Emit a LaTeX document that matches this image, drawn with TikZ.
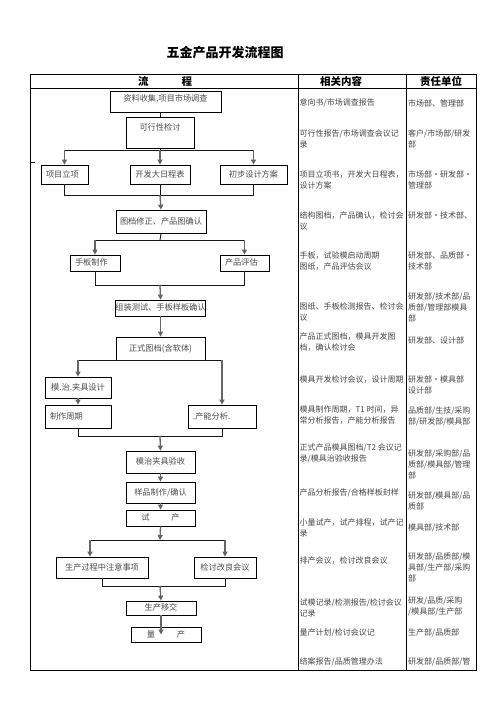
\documentclass[tikz,border=0pt]{standalone}
\usepackage{fontspec}
\setmainfont{Noto Sans CJK SC}
\usetikzlibrary{arrows.meta,calc}
\begin{document}
\begin{tikzpicture}[x=1pt,y=-1pt,
  tab/.style={draw=black,line width=1pt},
  ln/.style={draw=black!90,line width=0.9pt},
  arr/.style={draw=black!60,line width=1.3pt,-{Triangle[length=5pt,width=5pt,fill=black!85]}},
  fbox/.style={draw=black,line width=0.8pt,inner sep=0pt,text=black!70,
    font=\fontsize{8.2}{10}\selectfont,text height=7pt,text depth=2pt,align=center},
  lft/.style={align=left,inner xsep=5pt},
  hdr/.style={inner sep=0pt,font=\fontsize{10.5}{12}\selectfont\bfseries},
  ctwo/.style={anchor=west,inner sep=0pt,align=left,text=black!72,font=\fontsize{8}{11}\selectfont},
  cthree/.style={anchor=west,inner sep=0pt,align=left,text=black!72,font=\fontsize{8}{11}\selectfont}]
\useasboundingbox (0,0) rectangle (496,702);
\fill[white] (0,0) rectangle (496,702);

% title
\node[inner sep=0pt,font=\fontsize{13}{14}\selectfont\bfseries] (title) at (225,53) {五金产品开发流程图};

% table
\draw[tab] (30.5,74) rectangle (476,670);
\draw[tab] (30.5,88) -- (476,88);
\draw[tab] (298,74) -- (298,670);
\draw[tab] (406,74) -- (406,670);
\draw[ln] (31,162) -- (35,162);

\node[hdr] (h1) at (165,81) {流\hspace{33pt}程};
\node[hdr] (h2) at (341,81) {相关内容};
\node[hdr] (h3) at (441,81) {责任单位};

% flow boxes
\node[fbox,minimum width=111pt,minimum height=21pt,text depth=8pt] (b1) at (165.5,101.5) {资料收集,项目市场调查};
\node[fbox,minimum width=68pt,minimum height=31pt,text depth=11pt] (b2) at (160,132.5) {可行性检讨};
\node[fbox,lft,text width=37pt,minimum width=47pt,minimum height=19pt] (r3a) at (64.5,174.5) {项目立项};
\node[fbox,minimum width=60pt,minimum height=19pt] (r3b) at (160,174.5) {开发大日程表};
\node[fbox,minimum width=67pt,minimum height=19pt] (r3c) at (253.5,174.5) {初步设计方案};
\node[fbox,minimum width=90pt,minimum height=23pt] (b4) at (161,221.5) {图档修正、产品图确认};
\node[fbox,lft,text width=40pt,minimum width=50pt,minimum height=16pt] (hb) at (95,263) {手板制作};
\node[fbox,lft,text width=39pt,minimum width=49pt,minimum height=16pt] (pg) at (244.5,263) {产品评估};
\node[fbox,minimum width=89pt,minimum height=16pt] (b6) at (160.5,308) {组装测试、手板样板确认};
\node[fbox,minimum width=89pt,minimum height=23pt] (b7) at (160.5,348.5) {正式图档(含软体)};
\node[fbox,minimum width=66pt,minimum height=21pt] (mz) at (78,387.5) {模.治.夹具设计};
\node[fbox,lft,text width=56pt,minimum width=66pt,minimum height=23pt] (zq) at (78,416.5) {制作周期};
\node[fbox,lft,text width=58pt,minimum width=68pt,minimum height=23pt] (cn) at (222,416.5) {.产能分析.};
\node[fbox,minimum width=69pt,minimum height=22pt] (ys) at (160.5,462) {模治夹具验收};
\node[fbox,minimum width=69pt,minimum height=21pt] (yp) at (160.5,492.5) {样品制作/确认};
\node[fbox,minimum width=69pt,minimum height=16pt] (sc) at (160.5,518) {试\hspace{22pt}产};
\node[fbox,minimum width=92pt,minimum height=21pt] (sx) at (102,567.5) {生产过程中注意事项};
\node[fbox,minimum width=62pt,minimum height=21pt] (jt) at (225,567.5) {检讨改良会议};
\node[fbox,minimum width=70pt,minimum height=14pt] (yj) at (161,608) {生产移交};
\node[fbox,minimum width=70pt,minimum height=15pt] (lc) at (166,634.5) {量\hspace{22pt}产};

% junctions
\coordinate (j1) at (160,150);
\coordinate (m1) at (160,195);
\coordinate (j2) at (160,240);
\coordinate (m2) at (160,285);
\coordinate (m3) at (160,436);
\coordinate (j4) at (160,540);
\coordinate (a4l) at (90,540);
\coordinate (m4) at (160,586);

% connectors
\draw[ln] (b2.north |- b1.south) -- (b2.north);
\draw[ln] (b2.south) -- (j1);
\draw[ln] (r3a.north |- j1) -- (r3c.north |- j1);
\draw[arr] (r3a.north |- j1) -- (r3a.north);
\draw[arr] (j1) -- (r3b.north);
\draw[arr] (r3c.north |- j1) -- (r3c.north);
\draw[ln] (r3a.south) -- (r3a.south |- m1) -- (r3c.south |- m1) -- (r3c.south);
\draw[ln] (r3b.south) -- (m1);
\draw[arr] (m1) -- (b4.north);

\draw[ln] (b4.south) -- (j2);
\draw[ln] (hb.north |- j2) -- (pg.north |- j2);
\draw[arr] (hb.north |- j2) -- (hb.north);
\draw[arr] (pg.north |- j2) -- (pg.north);
\draw[ln] (hb.south) -- (hb.south |- m2) -- (pg.south |- m2) -- (pg.south);
\draw[arr] (m2) -- (b6.north);
\draw[arr] (b6.south) -- (b7.north);

\draw[ln] (mz.north |- b7.south) -- (cn.north |- b7.south);
\draw[arr] (mz.north |- b7.south) -- (mz.north);
\draw[arr] (cn.north |- b7.south) -- (cn.north);
\draw[arr] (mz.south) -- (zq.north);
\draw[ln] (zq.south) -- (zq.south |- m3) -- (cn.south |- m3) -- (cn.south);
\draw[arr] (m3) -- (ys.north);
\draw[arr] (ys.south) -- (yp.north);
\draw[arr] (yp.south) -- (sc.north);

\draw[arr] (sc.south) -- (j4);
\draw[ln] (a4l) -- (jt.north |- j4);
\draw[arr] (a4l) -- (a4l |- sx.north);
\draw[arr] (jt.north |- j4) -- (jt.north);
\draw[ln] (sx.south) -- (sx.south |- m4) -- (jt.south |- m4) -- (jt.south);
\draw[arr] (m4) -- (yj.north);
\draw[arr] (yj.south) -- (yj.south |- lc.center);

% column 2
\node[ctwo] (t1) at (299.5,103) {意向书/市场调查报告};
\node[ctwo] (t2) at (299.5,139) {可行性报告/市场调查会议记\\录};
\node[ctwo] (t3) at (299.5,179.5) {项目立项书，开发大日程表，\\设计方案};
\node[ctwo] (t4) at (299.5,221) {结构图档，产品确认，检讨会\\议};
\node[ctwo] (t5) at (299.5,261) {手板，试验模启动周期\\图纸，产品评估会议};
\node[ctwo] (t6) at (299.5,312) {图纸、手板检测报告、检讨会\\议};
\node[ctwo] (t7) at (299.5,342.5) {产品正式图档，模具开发图\\档，确认检讨会};
\node[ctwo] (t8) at (299.5,380) {模具开发检讨会议，设计周期};
\node[ctwo] (t9) at (299.5,415) {模具制作周期，T1 时间，异\\常分析报告，产能分析报告};
\node[ctwo] (t10) at (299.5,453) {正式产品模具图档/T2 会议记\\录/模具治验收报告};
\node[ctwo] (t11) at (299.5,493) {产品分析报告/合格样板封样};
\node[ctwo] (t12) at (299.5,527.5) {小量试产，试产排程，试产记\\录};
\node[ctwo] (t13) at (299.5,561) {排产会议，检讨改良会议};
\node[ctwo] (t14) at (299.5,608) {试模记录/检测报告/检讨会议\\记录};
\node[ctwo] (t15) at (299.5,633) {量产计划/检讨会议记};
\node[ctwo] (t16) at (299.5,662) {结案报告/品质管理办法};

% column 3
\node[cthree] (u1) at (408,103) {市场部、管理部};
\node[cthree] (u2) at (408,139) {客户/市场部/研发\\部};
\node[cthree] (u3) at (408,179.5) {市场部・研发部・\\管理部};
\node[cthree] (u4) at (408,215) {研发部・技术部、};
\node[cthree] (u5) at (408,261) {研发部、品质部・\\技术部};
\node[cthree] (u6) at (408,307.5) {研发部/技术部/品\\质部/管理部模具\\部};
\node[cthree] (u7) at (408,340) {研发部、设计部};
\node[cthree] (u8) at (408,385) {研发部・模具部\\设计部};
\node[cthree] (u9) at (408,416) {品质部/生技/采购\\部/研发部/模具部};
\node[cthree] (u10) at (408,464) {研发部/采购部/品\\质部/模具部/管理\\部};
\node[cthree] (u11) at (408,501) {研发部/模具部/品\\质部};
\node[cthree] (u12) at (408,528) {模具部/技术部};
\node[cthree] (u13) at (408,567.5) {研发部/品质部/模\\具部/生产部/采购\\部};
\node[cthree] (u14) at (408,606) {研发/品质/采购\\/模具部/生产部};
\node[cthree] (u15) at (408,633) {生产部/品质部};
\node[cthree] (u16) at (408,662) {研发部/品质部/管};
\end{tikzpicture}
\end{document}
